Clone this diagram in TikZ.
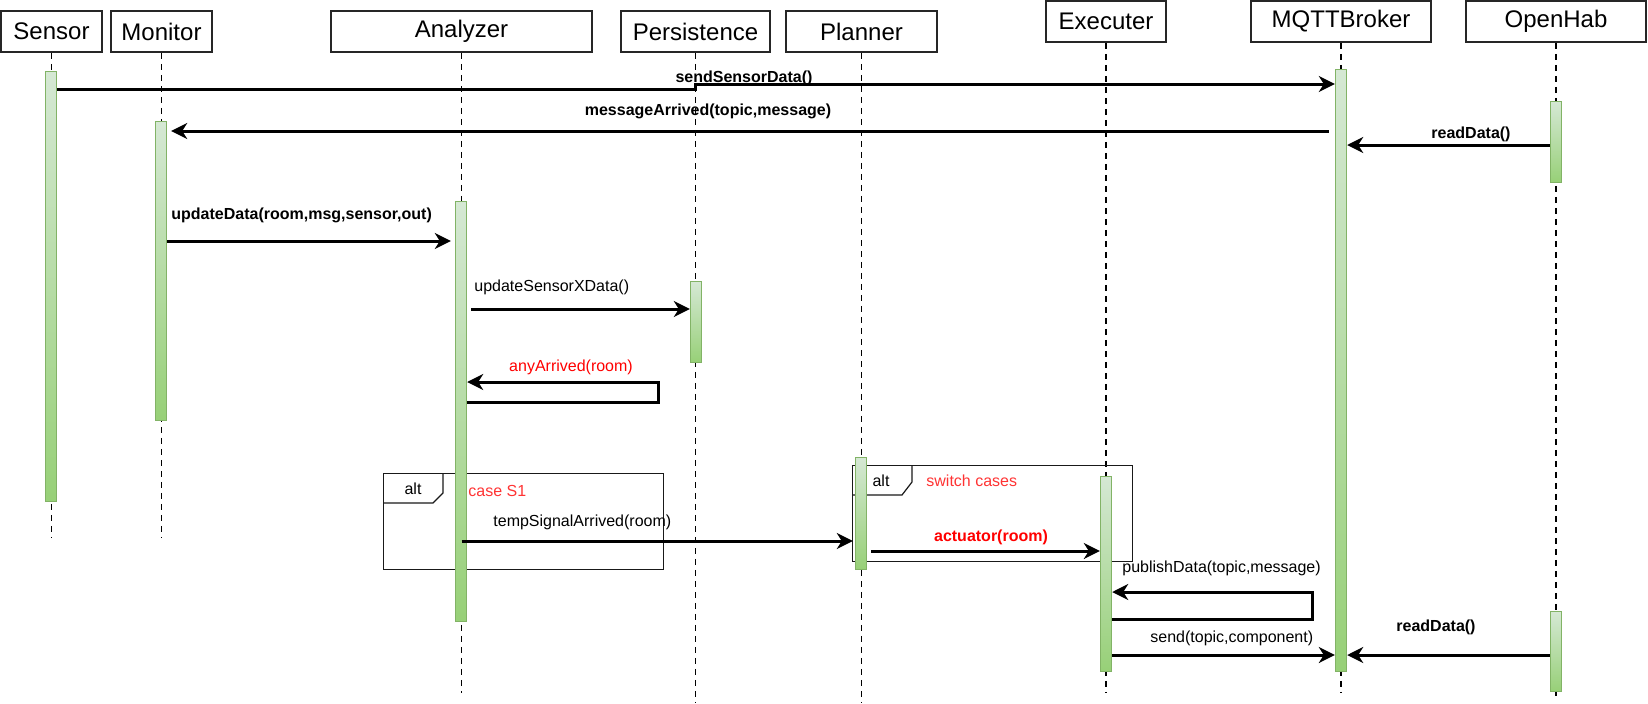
\documentclass[tikz,border=0pt]{standalone}
\usepackage{fontspec}
\setmainfont{Liberation Sans}
\usetikzlibrary{arrows.meta}
\definecolor{actTop}{HTML}{D5E8D4}
\definecolor{actBot}{HTML}{97D077}
\definecolor{actEdge}{HTML}{82B366}
\definecolor{caseRed}{HTML}{FF3333}

\begin{document}
\begin{tikzpicture}[x=0.5pt,y=-0.5pt,
  head/.style={draw=black!85, line width=0.75pt, minimum height=20.5pt, inner sep=0, font=\fontsize{12}{14}\selectfont},
  life/.style={line width=0.8pt, dash pattern=on 3pt off 2.5pt},
  act/.style={draw=actEdge, line width=0.7pt, top color=actTop, bottom color=actBot, minimum width=5.5pt, inner sep=0, anchor=north},
  msg/.style={line width=1.5pt, -{Stealth[length=8pt,width=8pt,inset=2.5pt]}},
  lbl/.style={font=\fontsize{8}{10}\selectfont, inner sep=0},
  blbl/.style={font=\fontsize{8}{10}\selectfont\bfseries, inner sep=0},
  altframe/.style={draw=black!90, line width=0.6pt, minimum width=140pt, minimum height=48pt, inner sep=0, anchor=north west}]
\useasboundingbox (0,0) rectangle (1648,703);

% participants and lifelines
\foreach \nm/\txt/\x/\y/\w/\e in {sensor/Sensor/51.5/31.5/50.5/538, monitor/Monitor/161.5/31.5/50.5/538,
  analyzer/Analyzer/461.5/31.5/130.5/693, persistence/Persistence/695.5/31.5/74.5/703,
  planner/Planner/861.5/31.5/75.5/703, executer/Executer/1106/21.5/60/693,
  broker/MQTTBroker/1341/21.5/90/693, openhab/OpenHab/1556/21.5/90/696} {
  \node[head, minimum width=\w pt] (\nm) at (\x,\y) {\txt};
  \draw[life] (\nm.south) -- (\nm.south |- 0,\e);
}

% alt frames
\node[altframe] (altA) at (383,473) {};
\draw[altframe] ([xshift=30pt]altA.north west) -- ++(0,20) -- ++(-10,10) -- (altA.west |- 0,503);
\node[lbl] (altAtxt) at ([shift={(30,16)}]altA.north west) {alt};
\node[lbl, text=caseRed, anchor=west] (caseS) at (468,491) {case S1};

\node[altframe] (altB) at (852,465) {};
\draw[altframe] ([xshift=30pt]altB.north west) -- ++(0,17) -- ++(-10,13) -- (altB.west |- 0,495);
\node[lbl] (altBtxt) at ([shift={(29,16)}]altB.north west) {alt};
\node[lbl, text=caseRed, anchor=west] (switchCases) at (926,481) {switch cases};

% activation bars
\foreach \nm/\x/\t/\h in {sensorAct/51/71/215, monitorAct/161/121/149.5, analyzerAct/461/201/210,
  persistenceAct/696/281/40.5, plannerAct/861/457/56, executerAct/1106/476/97.5,
  brokerAct/1341/69/301, openhabActA/1556/101/40.5, openhabActB/1556/611/40} {
  \node[act, minimum height=\h pt] (\nm) at (\x,\t) {};
}

% messages
\draw[msg] (sensorAct.east |- 0,89) -- (persistence |- 0,89) -- (persistence |- 0,84) -- (brokerAct.west |- 0,84);
\node[blbl] (sendLbl) at (744,78) {sendSensorData()};

\draw[msg, shorten <=3pt, shorten >=2pt] (brokerAct.west |- 0,131) -- (monitorAct.east |- 0,131);
\node[blbl] (arrivedLbl) at (708,111) {messageArrived(topic,message)};

\draw[msg] (openhabActA.west |- 0,145) -- (brokerAct.east |- 0,145);
\node[blbl] (readLbl) at (1471,134) {readData()};

\draw[msg, shorten >=2pt] (monitorAct.east |- 0,241) -- (analyzerAct.west |- 0,241);
\node[blbl, anchor=west] (updateLbl) at (171,215) {updateData(room,msg,sensor,out)};

\draw[msg, shorten <=2pt] (analyzerAct.east |- 0,309) -- (persistenceAct.west |- 0,309);
\node[lbl, anchor=west] (xdataLbl) at (474,287) {updateSensorXData()};

\coordinate (anyTurn) at (658,382);
\draw[msg] (analyzerAct.east |- 0,402) -| (anyTurn) -- (analyzerAct.east |- anyTurn);
\node[lbl, text=red] (anyLbl) at (571,367) {anyArrived(room)};

\draw[msg, shorten >=1pt] (analyzer |- 0,541) -- (plannerAct.west |- 0,541);
\node[lbl, anchor=west] (tempLbl) at (493,522) {tempSignalArrived(room)};

\draw[msg, shorten <=2pt] (plannerAct.east |- 0,551) -- (executerAct.west |- 0,551);
\node[blbl, text=red] (actLbl) at (991,537) {actuator(room)};

\coordinate (pubTurn) at (1312,592);
\draw[msg] (executerAct.east |- 0,619) -| (pubTurn) -- (executerAct.east |- pubTurn);
\node[lbl, anchor=west] (pubLbl) at (1122,568) {publishData(topic,message)};

\draw[msg] (executerAct.east |- 0,655) -- (brokerAct.west |- 0,655);
\node[lbl, anchor=west] (sendCLbl) at (1150,638) {send(topic,component)};

\draw[msg] (openhabActB.west |- 0,655) -- (brokerAct.east |- 0,655);
\node[blbl] (readLbl2) at (1436,627) {readData()};

\end{tikzpicture}
\end{document}
